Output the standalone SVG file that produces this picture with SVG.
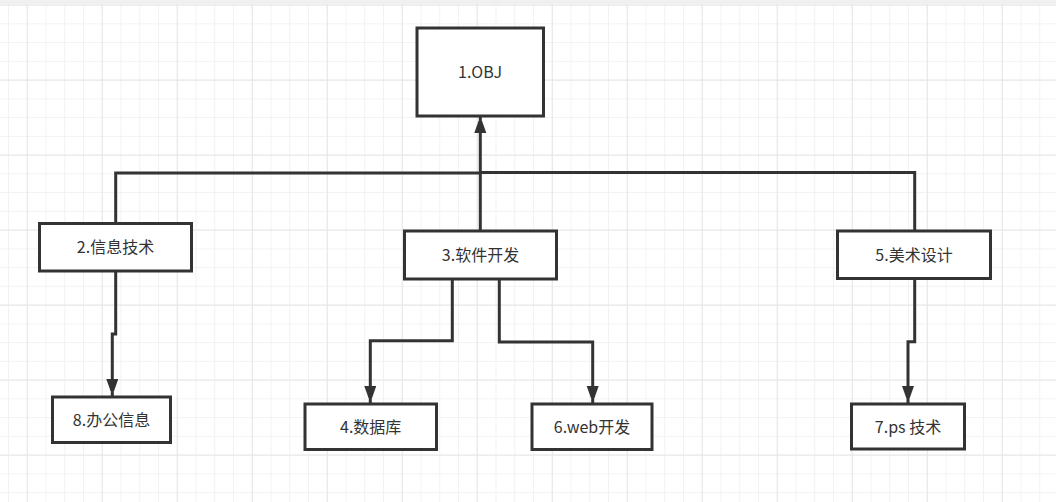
<svg xmlns="http://www.w3.org/2000/svg" width="1056" height="502" viewBox="0 0 1056 502">
  <defs>
    <pattern id="minor" width="18.75" height="18.75" patternUnits="userSpaceOnUse" x="8" y="4.6">
      <path d="M0.5 0V18.75M0 0.5H18.75" fill="none" stroke="#f2f2f2" stroke-width="1"/>
    </pattern>
    <pattern id="major" width="75" height="75" patternUnits="userSpaceOnUse" x="26.75" y="4.6">
      <path d="M0.5 0V75M0 0.5H75" fill="none" stroke="#e6e6e6" stroke-width="1"/>
    </pattern>
    <marker id="arrow" markerUnits="userSpaceOnUse" markerWidth="12" markerHeight="18" viewBox="0 0 12 18" refX="17" refY="6" orient="auto">
      <path d="M0 0L17 6L0 12Z" fill="#333333"/>
    </marker>
    <style>
      .node rect { fill: #ffffff; stroke: #333333; stroke-width: 3; }
      .node text { font-family: "Noto Sans CJK SC", "Noto Sans", sans-serif; font-size: 16px; fill: #333333; text-anchor: middle; }
      .edge { fill: none; stroke: #333333; stroke-width: 3; }
    </style>
  </defs>

  <rect width="1056" height="502" fill="#ffffff"/>
  <rect width="1056" height="502" fill="url(#minor)"/>
  <rect width="1056" height="502" fill="url(#major)"/>
  <rect width="1056" height="4" fill="#f0f0f0"/>

  <g id="connectors">
    <path class="edge" d="M115.7 223V173H480.3"/>
    <path class="edge" d="M914.7 231V172.5H480.3"/>
    <path class="edge" d="M480.3 231V116" marker-end="url(#arrow)"/>
    <path class="edge" d="M115.7 271V334H112.3V396" marker-end="url(#arrow)"/>
    <path class="edge" d="M452.3 279V340.7H370.3V403" marker-end="url(#arrow)"/>
    <path class="edge" d="M499.3 279V342H592.7V403" marker-end="url(#arrow)"/>
    <path class="edge" d="M914.7 278V341.7H908V403" marker-end="url(#arrow)"/>
  </g>

  <g id="node1" class="node">
    <rect x="417" y="28" width="126.5" height="88"/>
    <text x="480" y="78">1.OBJ</text>
  </g>
  <g id="node2" class="node">
    <rect x="39.5" y="223.5" width="152" height="47.5"/>
    <text x="115.5" y="253">2.信息技术</text>
  </g>
  <g id="node3" class="node">
    <rect x="404.5" y="231" width="152" height="48"/>
    <text x="480.5" y="261">3.软件开发</text>
  </g>
  <g id="node5" class="node">
    <rect x="837.5" y="231" width="153" height="47.5"/>
    <text x="914" y="261">5.美术设计</text>
  </g>
  <g id="node8" class="node">
    <rect x="52.5" y="397" width="118" height="45.5"/>
    <text x="111.5" y="425.5">8.办公信息</text>
  </g>
  <g id="node4" class="node">
    <rect x="305" y="404" width="131.5" height="45.5"/>
    <text x="370.7" y="432.5">4.数据库</text>
  </g>
  <g id="node6" class="node">
    <rect x="532" y="404" width="120" height="45.5"/>
    <text x="592" y="432.5">6.web开发</text>
  </g>
  <g id="node7" class="node">
    <rect x="851.5" y="404" width="113" height="45"/>
    <text x="908" y="432.5">7.ps 技术</text>
  </g>
</svg>
